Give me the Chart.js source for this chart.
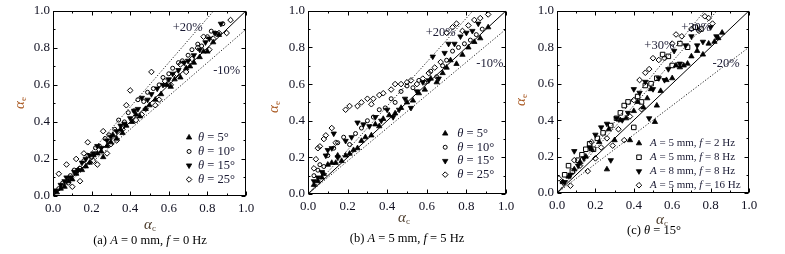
<!DOCTYPE html>
<html><head><meta charset="utf-8">
<script src="https://cdn.jsdelivr.net/npm/chart.js@4/dist/chart.umd.min.js"></script>
<style>
body{margin:0;background:#fff;}
#wrap{position:relative;width:785px;height:254px;overflow:hidden;font-family:"Liberation Serif","Times New Roman",serif;color:#111;}
canvas{position:absolute;top:0;}
.t{position:absolute;white-space:nowrap;transform:translate(-50%,-50%);line-height:1;}
.yt{transform:translate(-50%,-50%) rotate(-90deg);color:#a8561e;font-size:15px;}
.xt{color:#4a3a2a;font-size:15px;}
.cap{font-size:12.5px;color:#000;}
sub{font-size:9px;vertical-align:-2px;font-style:normal;}
</style></head>
<body>
<div id="wrap">
<canvas id="ca" width="262" height="254" style="left:0px"></canvas>
<canvas id="cb" width="262" height="254" style="left:262px"></canvas>
<canvas id="cc" width="261" height="254" style="left:524px"></canvas>
<div class="t yt" style="left:20px;top:103px"><i>α</i><sub>e</sub></div>
<div class="t yt" style="left:274px;top:107px"><i>α</i><sub>e</sub></div>
<div class="t yt" style="left:521px;top:100px"><i>α</i><sub>e</sub></div>
<div class="t xt" style="left:150px;top:225px"><i>α</i><sub>c</sub></div>
<div class="t xt" style="left:404px;top:218px"><i>α</i><sub>c</sub></div>
<div class="t xt" style="left:662px;top:220px"><i>α</i><sub>c</sub></div>
<div class="t cap" style="left:150px;top:240px">(a) <i>A</i> = 0 mm, <i>f</i> = 0 Hz</div>
<div class="t cap" style="left:407px;top:238px">(b) <i>A</i> = 5 mm, <i>f</i> = 5 Hz</div>
<div class="t cap" style="left:654px;top:230px">(c) <i>θ</i> = 15°</div>
</div>
<script>
// ---------- tick values ----------
const majorTicks = [0, 0.2, 0.4, 0.6, 0.8, 1.0];
const minorTicks = [0.1, 0.3, 0.5, 0.7, 0.9];

// ---------- panel (a): A = 0 mm, f = 0 Hz ----------
const namesA = ['θ = 5°', 'θ = 10°', 'θ = 15°', 'θ = 25°'];
const a5x  = [0.02,0.04,0.06,0.08,0.10,0.12,0.13,0.15,0.17,0.19,0.21,0.23,0.25,0.26,0.28,0.30,0.31,0.33,0.35,0.36,0.38,0.41,0.43,0.45,0.48,0.50,0.53,0.56,0.59,0.61,0.63,0.66,0.69,0.71,0.73,0.76,0.78,0.80,0.83,0.86];
const a5y  = [0.02,0.04,0.05,0.08,0.09,0.12,0.14,0.14,0.16,0.18,0.22,0.23,0.24,0.21,0.27,0.29,0.33,0.31,0.36,0.34,0.38,0.40,0.44,0.43,0.47,0.49,0.52,0.55,0.60,0.59,0.63,0.64,0.69,0.70,0.72,0.75,0.78,0.78,0.83,0.87];
const a10x = [0.03,0.05,0.08,0.09,0.11,0.14,0.16,0.18,0.20,0.22,0.24,0.27,0.29,0.32,0.34,0.37,0.39,0.42,0.44,0.47,0.49,0.52,0.55,0.57,0.60,0.62,0.65,0.67,0.70,0.72,0.75,0.77,0.80,0.82,0.84,0.88];
const a10y = [0.04,0.07,0.07,0.11,0.14,0.15,0.19,0.22,0.21,0.26,0.27,0.31,0.33,0.36,0.41,0.40,0.45,0.46,0.52,0.51,0.56,0.58,0.60,0.64,0.66,0.69,0.72,0.73,0.76,0.79,0.82,0.81,0.86,0.89,0.88,0.93];
const a15x = [0.01,0.04,0.06,0.07,0.09,0.11,0.13,0.15,0.17,0.19,0.21,0.23,0.25,0.28,0.30,0.33,0.35,0.37,0.40,0.42,0.44,0.46,0.49,0.51,0.54,0.57,0.60,0.62,0.65,0.68,0.70,0.73,0.76,0.79,0.81,0.84,0.87];
const a15y = [0.03,0.06,0.08,0.10,0.10,0.13,0.14,0.18,0.20,0.22,0.23,0.27,0.26,0.30,0.32,0.35,0.38,0.39,0.42,0.46,0.47,0.53,0.52,0.55,0.58,0.60,0.63,0.66,0.68,0.72,0.73,0.76,0.79,0.83,0.85,0.88,0.93];
const a25x = [0.03,0.07,0.10,0.12,0.14,0.16,0.18,0.21,0.23,0.26,0.28,0.30,0.33,0.36,0.38,0.40,0.43,0.46,0.48,0.51,0.53,0.55,0.58,0.61,0.64,0.66,0.69,0.72,0.75,0.78,0.81,0.83,0.86,0.90,0.92];
const a25y = [0.12,0.17,0.05,0.20,0.08,0.23,0.29,0.19,0.17,0.35,0.23,0.28,0.30,0.36,0.49,0.57,0.41,0.44,0.47,0.67,0.49,0.52,0.62,0.60,0.66,0.71,0.67,0.74,0.80,0.86,0.79,0.85,0.88,0.88,0.95];

// ---------- panel (b): A = 5 mm, f = 5 Hz ----------
const namesB = ['θ = 5°', 'θ = 10°', 'θ = 15°', 'θ = 25°'];
const b5x  = [0.03,0.05,0.07,0.08,0.10,0.12,0.14,0.15,0.17,0.19,0.21,0.23,0.25,0.27,0.29,0.32,0.34,0.36,0.38,0.41,0.44,0.47,0.50,0.53,0.56,0.59,0.62,0.65,0.68,0.70,0.72,0.75,0.78,0.81,0.84,0.87,0.91];
const b5y  = [0.05,0.07,0.09,0.11,0.16,0.17,0.17,0.21,0.18,0.21,0.22,0.24,0.25,0.29,0.31,0.32,0.38,0.37,0.41,0.43,0.44,0.47,0.50,0.51,0.55,0.57,0.63,0.61,0.66,0.69,0.73,0.71,0.76,0.80,0.83,0.85,0.91];
const b10x = [0.03,0.05,0.06,0.08,0.10,0.13,0.15,0.18,0.21,0.24,0.27,0.30,0.33,0.36,0.39,0.42,0.44,0.47,0.50,0.53,0.56,0.59,0.62,0.65,0.68,0.70,0.73,0.76,0.79,0.82,0.85,0.88];
const b10y = [0.10,0.13,0.16,0.15,0.21,0.25,0.28,0.31,0.27,0.33,0.36,0.40,0.42,0.46,0.47,0.52,0.50,0.56,0.59,0.58,0.62,0.61,0.67,0.64,0.70,0.73,0.78,0.80,0.82,0.84,0.87,0.90];
const b15x = [0.03,0.05,0.07,0.09,0.10,0.12,0.13,0.15,0.19,0.22,0.25,0.28,0.31,0.34,0.37,0.40,0.43,0.46,0.49,0.52,0.55,0.58,0.61,0.63,0.66,0.69,0.71,0.74,0.77,0.80,0.83,0.86];
const b15y = [0.07,0.09,0.12,0.21,0.24,0.25,0.33,0.20,0.29,0.31,0.39,0.38,0.37,0.42,0.40,0.46,0.42,0.46,0.52,0.47,0.56,0.61,0.62,0.75,0.63,0.77,0.82,0.82,0.86,0.88,0.89,0.93];
const b25x = [0.03,0.04,0.05,0.06,0.08,0.09,0.12,0.14,0.19,0.21,0.25,0.27,0.30,0.32,0.33,0.36,0.38,0.42,0.44,0.47,0.50,0.52,0.55,0.58,0.61,0.64,0.67,0.70,0.73,0.75,0.78,0.81,0.84,0.87,0.91];
const b25y = [0.14,0.19,0.25,0.26,0.30,0.32,0.36,0.28,0.46,0.48,0.48,0.50,0.52,0.49,0.52,0.54,0.55,0.57,0.60,0.60,0.61,0.62,0.60,0.63,0.66,0.69,0.72,0.88,0.91,0.93,0.89,0.92,0.95,0.96,0.98];

// ---------- panel (c): θ = 15° ----------
const namesC = ['A = 5 mm, f = 2 Hz', 'A = 5 mm, f = 8 Hz', 'A = 8 mm, f = 8 Hz', 'A = 5 mm, f = 16 Hz'];
const c1x = [0.03,0.06,0.09,0.12,0.15,0.18,0.22,0.26,0.27,0.30,0.33,0.36,0.38,0.40,0.42,0.45,0.47,0.49,0.51,0.52,0.54,0.57,0.60,0.62,0.64,0.66,0.68,0.70,0.73,0.76,0.79,0.82,0.84,0.86];
const c1y = [0.06,0.09,0.13,0.17,0.20,0.24,0.28,0.13,0.35,0.29,0.40,0.41,0.29,0.45,0.50,0.47,0.52,0.57,0.39,0.48,0.56,0.62,0.63,0.70,0.69,0.70,0.71,0.75,0.78,0.76,0.82,0.83,0.85,0.88];
const c2x = [0.04,0.06,0.08,0.11,0.13,0.15,0.17,0.19,0.21,0.24,0.28,0.31,0.33,0.35,0.37,0.40,0.42,0.44,0.46,0.49,0.52,0.55,0.58,0.60,0.64,0.68,0.72,0.75];
const c2y = [0.10,0.15,0.12,0.18,0.21,0.24,0.27,0.24,0.30,0.33,0.37,0.41,0.44,0.48,0.50,0.36,0.53,0.50,0.59,0.60,0.63,0.76,0.75,0.70,0.82,0.80,0.91,0.90];
const c3x = [0.04,0.07,0.09,0.11,0.14,0.17,0.20,0.23,0.26,0.28,0.31,0.34,0.37,0.40,0.43,0.46,0.48,0.50,0.53,0.56,0.58,0.61,0.64,0.67,0.70,0.73,0.76,0.80,0.83];
const c3y = [0.06,0.10,0.23,0.15,0.19,0.25,0.32,0.36,0.38,0.18,0.41,0.40,0.44,0.57,0.55,0.61,0.41,0.57,0.63,0.62,0.68,0.78,0.71,0.81,0.86,0.81,0.83,0.91,0.86];
const c4x = [0.01,0.03,0.07,0.09,0.12,0.16,0.18,0.20,0.23,0.26,0.29,0.32,0.35,0.38,0.40,0.43,0.44,0.46,0.48,0.50,0.53,0.56,0.60,0.62,0.65,0.70,0.74,0.77,0.79,0.81];
const c4y = [0.08,0.06,0.04,0.18,0.15,0.12,0.28,0.19,0.25,0.30,0.26,0.35,0.29,0.42,0.51,0.62,0.46,0.66,0.68,0.74,0.73,0.74,0.82,0.87,0.86,0.90,0.89,0.97,0.96,0.93];

// ---------- reference lines (end points) ----------
const lineEqualX = [0, 1],     lineEqualY = [0, 1];
const linePlus20X = [0, 0.833], linePlus20Y = [0, 1];
const lineMinus10X = [0, 1],   lineMinus10Y = [0, 0.9];
const linePlus30X = [0, 0.769], linePlus30Y = [0, 1];
const lineMinus20X = [0, 1],   lineMinus20Y = [0, 0.8];

// ---------- band labels ----------
const bandLabelsA = ['+20%', '-10%'];
const bandLabelsB = ['+20%', '-10%'];
const bandLabelsC = ['+30%', '+20%', '-20%'];

// ---------- helpers ----------
const FONT = '"Liberation Serif","Times New Roman",serif';
const zip = (xs, ys) => xs.map((x, i) => ({x, y: ys[i]}));

const markerStyles = {
  up:   {pointStyle:'triangle', rotation:0,   pointRadius:3.1, backgroundColor:'#000', borderColor:'#000', borderWidth:0.8},
  down: {pointStyle:'triangle', rotation:180, pointRadius:3.1, backgroundColor:'#000', borderColor:'#000', borderWidth:0.8},
  circ: {pointStyle:'circle',   rotation:0,   pointRadius:2.0, backgroundColor:'rgba(255,255,255,0)', borderColor:'#000', borderWidth:1},
  diam: {pointStyle:'rectRot',  rotation:0,   pointRadius:2.8, backgroundColor:'rgba(255,255,255,0)', borderColor:'#000', borderWidth:1},
  sq:   {pointStyle:'rect',     rotation:0,   pointRadius:3.2, backgroundColor:'rgba(255,255,255,0)', borderColor:'#000', borderWidth:1}
};

function pointSet(label, xs, ys, kind){
  const m = markerStyles[kind];
  return {type:'scatter', label, data: zip(xs, ys), showLine:false, order:0,
    pointStyle:m.pointStyle, rotation:m.rotation, pointRadius:m.pointRadius,
    backgroundColor:m.backgroundColor, borderColor:m.borderColor, borderWidth:m.borderWidth, isMarker:true};
}
function lineSet(xs, ys, dashed){
  return {type:'line', label:'_line', data: zip(xs, ys), showLine:true, order:10,
    borderColor: dashed ? '#222' : '#000', borderWidth: 1, borderDash: dashed ? [1.2, 1.8] : [],
    pointRadius:0, fill:false, tension:0, isMarker:false};
}

function richText(ctx, str, x, y, size, color){
  const parts = str.split(/(θ|\bA\b|\bf\b)/).filter(s => s.length);
  let cx = x;
  ctx.fillStyle = color;
  ctx.textBaseline = 'middle';
  ctx.textAlign = 'left';
  for (const p of parts){
    const it = (p === 'θ' || p === 'A' || p === 'f');
    ctx.font = (it ? 'italic ' : '') + size + 'px ' + FONT;
    ctx.fillText(p, cx, y);
    cx += ctx.measureText(p).width;
  }
}

const framePlugin = {
  id:'frame',
  afterDatasetsDraw(chart){
    const {ctx, chartArea:a, scales:{x, y}} = chart;
    const o = chart.options.plugins.frame;
    ctx.save();
    ctx.strokeStyle = '#000';
    ctx.lineWidth = 1;
    const L = Math.round(a.left) + 0.5, R = Math.round(a.right) - 0.5;
    const T = Math.round(a.top) + 0.5, B = Math.round(a.bottom) - 0.5;
    ctx.strokeRect(L, T, R - L, B - T);
    ctx.beginPath();
    const tk = (vals, len) => {
      for (const v of vals){
        const px = Math.round(x.getPixelForValue(v)) + 0.5;
        const py = Math.round(y.getPixelForValue(v)) + 0.5;
        ctx.moveTo(px, B); ctx.lineTo(px, B - len);
        ctx.moveTo(px, T); ctx.lineTo(px, T + len);
        ctx.moveTo(L, py); ctx.lineTo(L + len, py);
        ctx.moveTo(R, py); ctx.lineTo(R - len, py);
      }
    };
    tk(majorTicks, 4);
    tk(minorTicks, 2);
    ctx.stroke();

    // band labels
    for (const b of o.bands){
      richText(ctx, b.text, x.getPixelForValue(b.x), y.getPixelForValue(b.y), 12.5, '#1a1a33');
    }
    // legend
    const lg = o.legend;
    const mx = x.getPixelForValue(lg.x);
    let my = y.getPixelForValue(lg.y);
    const sets = chart.data.datasets.filter(d => d.isMarker);
    for (const d of sets){
      ctx.fillStyle = d.backgroundColor;
      ctx.strokeStyle = d.borderColor;
      ctx.lineWidth = d.borderWidth;
      Chart.helpers.drawPoint(ctx, {pointStyle:d.pointStyle, rotation:d.rotation, radius:d.pointRadius, borderWidth:d.borderWidth}, mx, my);
      richText(ctx, d.label, mx + lg.dx, my, lg.size, '#1a1a33');
      my += lg.dy;
    }
    ctx.restore();
  }
};

function makeChart(id, datasets, geo, bands, legend){
  new Chart(document.getElementById(id), {
    type:'scatter',
    data:{datasets},
    options:{
      responsive:false, animation:false, events:[],
      layout:{padding:{left:0, top:geo.top, right:geo.right, bottom:0}},
      plugins:{legend:{display:false}, tooltip:{enabled:false}, title:{display:false},
        frame:{bands, legend}},
      scales:{
        x:{type:'linear', min:0, max:1, border:{display:false},
           grid:{display:false, drawTicks:false},
           afterBuildTicks: s => { s.ticks = majorTicks.map(v => ({value:v})); },
           afterFit: s => { s.height = geo.xh; },
           ticks:{padding:5, color:'#111122', font:{family:FONT, size:13}, maxRotation:0, autoSkip:false, callback: v => Number(v).toFixed(1)}},
        y:{type:'linear', min:0, max:1, border:{display:false},
           grid:{display:false, drawTicks:false},
           afterBuildTicks: s => { s.ticks = majorTicks.map(v => ({value:v})); },
           afterFit: s => { s.width = geo.yw; },
           ticks:{padding:3, color:'#111122', font:{family:FONT, size:13}, autoSkip:false, callback: v => Number(v).toFixed(1)}}
      }
    },
    plugins:[framePlugin]
  });
}

makeChart('ca', [
  lineSet(lineEqualX, lineEqualY, false),
  lineSet(linePlus20X, linePlus20Y, true),
  lineSet(lineMinus10X, lineMinus10Y, true),
  pointSet(namesA[0], a5x, a5y, 'up'),
  pointSet(namesA[1], a10x, a10y, 'circ'),
  pointSet(namesA[2], a15x, a15y, 'down'),
  pointSet(namesA[3], a25x, a25y, 'diam')
], {top:9, right:16, yw:53, xh:58},
[{text:bandLabelsA[0], x:0.62, y:0.911}, {text:bandLabelsA[1], x:0.83, y:0.675}],
{x:0.705, y:0.316, dy:14, dx:9, size:12.5});

makeChart('cb', [
  lineSet(lineEqualX, lineEqualY, false),
  lineSet(linePlus20X, linePlus20Y, true),
  lineSet(lineMinus10X, lineMinus10Y, true),
  pointSet(namesB[0], b5x, b5y, 'up'),
  pointSet(namesB[1], b10x, b10y, 'circ'),
  pointSet(namesB[2], b15x, b15y, 'down'),
  pointSet(namesB[3], b25x, b25y, 'diam')
], {top:10, right:18, yw:46, xh:60},
[{text:bandLabelsB[0], x:0.595, y:0.88}, {text:bandLabelsB[1], x:0.85, y:0.711}],
{x:0.693, y:0.33, dy:13.7, dx:12, size:12.5});

makeChart('cc', [
  lineSet(lineEqualX, lineEqualY, false),
  lineSet(linePlus30X, linePlus30Y, true),
  lineSet(linePlus20X, linePlus20Y, true),
  lineSet(lineMinus20X, lineMinus20Y, true),
  pointSet(namesC[0], c1x, c1y, 'up'),
  pointSet(namesC[1], c2x, c2y, 'sq'),
  pointSet(namesC[2], c3x, c3y, 'down'),
  pointSet(namesC[3], c4x, c4y, 'diam')
], {top:7, right:36, yw:33, xh:61},
[{text:bandLabelsC[0], x:0.455, y:0.807}, {text:bandLabelsC[1], x:0.647, y:0.905}, {text:bandLabelsC[2], x:0.81, y:0.71}],
{x:0.427, y:0.273, dy:14, dx:11, size:11});
</script>
</body></html>
